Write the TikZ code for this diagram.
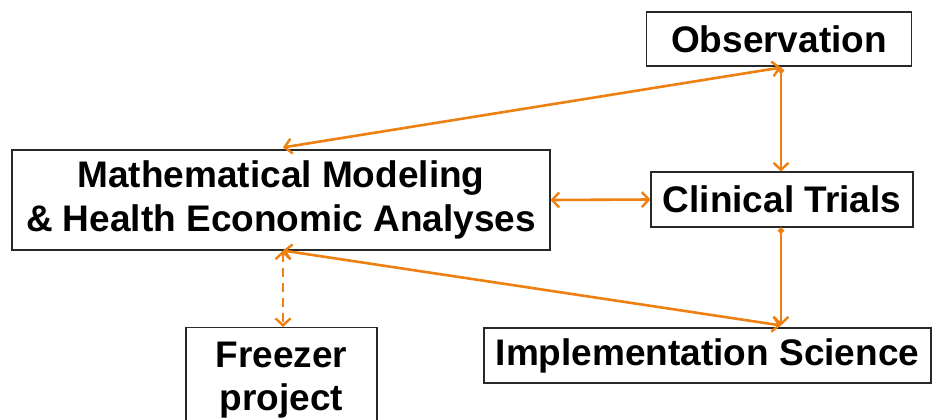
\documentclass[tikz,border=0pt]{standalone}
\usepackage{fontspec}
\setmainfont{Liberation Sans}
\usetikzlibrary{arrows.meta,calc}
\definecolor{arrowor}{RGB}{238,128,18}
\definecolor{boxline}{RGB}{40,40,40}
\begin{document}
\begin{tikzpicture}[x=1pt,y=1pt,
  box/.style={draw=boxline,line width=1.1pt,fill=white,inner sep=0pt,align=center,
    font=\fontsize{37}{44}\selectfont\bfseries},
  conn/.style={draw=arrowor,line width=2.6pt},
  tip/.style={-{Straight Barb[length=7pt,width=15pt,line width=2.4pt]}},
  dtip/.style={{Straight Barb[length=7pt,width=15pt,line width=2.4pt]}-{Straight Barb[length=7pt,width=15pt,line width=2.4pt]}},
  dottip/.style={{Circle[length=6pt]}-{Straight Barb[length=7pt,width=15pt,line width=2.4pt]}}]
\clip (0,0) rectangle (932,-420);
\fill[white] (0,0) rectangle (932,-420);
\node[box,minimum width=265pt,minimum height=54pt] (obs) at (779,-39) {Observation};
\node[box,minimum width=262pt,minimum height=55pt] (ct) at (782,-199.5) {Clinical Trials};
\node[box,minimum width=538pt,minimum height=100pt] (math) at (281,-200) {Mathematical Modeling\\\& Health Economic Analyses};
\node[box,minimum width=191pt,minimum height=110pt,anchor=north] (frz) at (281.5,-327) {};
\node[font=\fontsize{37}{44}\selectfont\bfseries,align=center,anchor=base] (frztxt) at (281.5,-367) {Freezer};
\node[font=\fontsize{37}{44}\selectfont\bfseries,align=center,anchor=base] (frztxt2) at (281.5,-410) {project};
\node[box,minimum width=447pt,minimum height=55pt] (impl) at (707.5,-355.5) {Implementation Science};
\coordinate (obsB) at ($(obs.south)+(2,-1)$);
\coordinate (mathT) at ($(math.north)+(2,2)$);
\coordinate (mathB) at ($(math.south)+(2,0)$);
\coordinate (ctB) at ($(ct.south)+(-1,0)$);
\coordinate (implT) at ($(impl.north)+(73.5,2)$);
\draw[conn,dtip] (obsB) -- (mathT);
\draw[conn,dottip] (obsB) -- (obsB |- ct.north);
\draw[conn,dtip] (math.east) -- (ct.west);
\draw[conn,dottip] (ctB) -- (implT);
\draw[conn,dtip] (mathB) -- (implT);
\draw[conn,dtip,dashed,dash pattern=on 9pt off 6pt] (mathB) -- (mathB |- frz.north);
\end{tikzpicture}
\end{document}
